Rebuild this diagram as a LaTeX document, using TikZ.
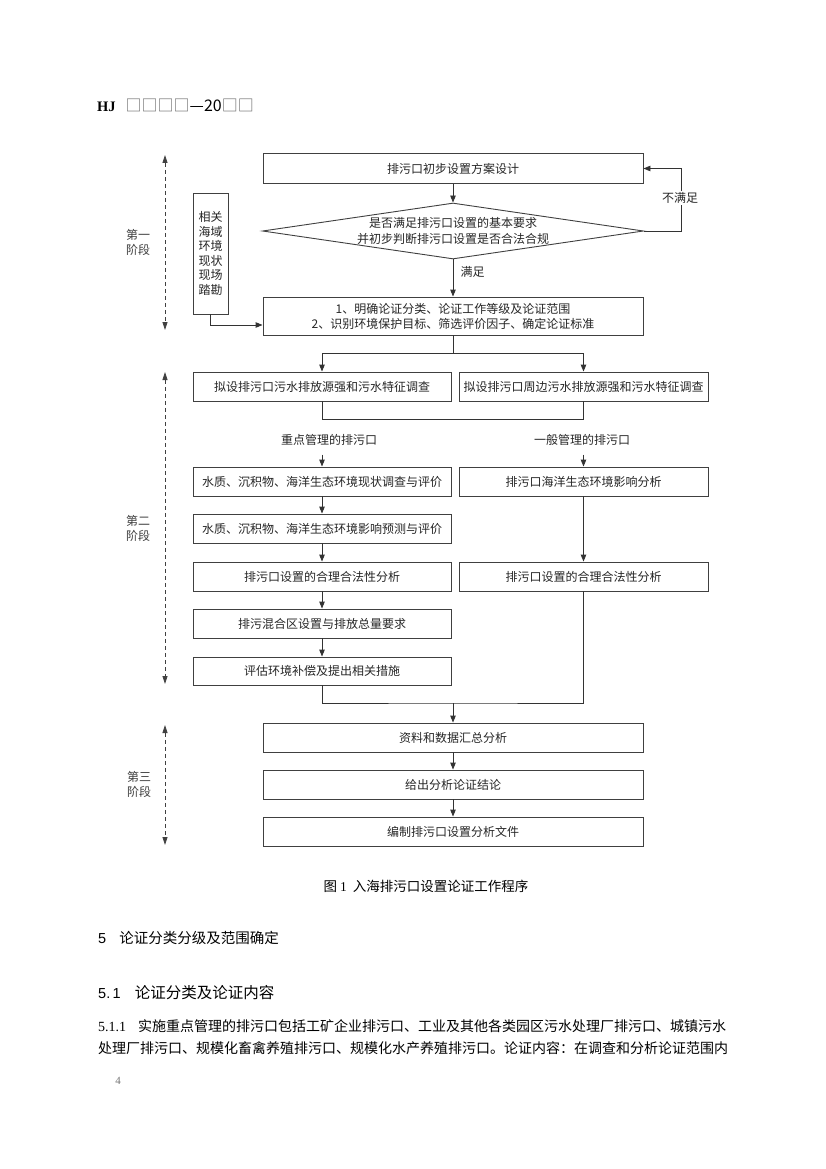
\documentclass[tikz,border=0pt]{standalone}
\usepackage{fontspec}
\setmainfont{Liberation Serif}
\setsansfont{Liberation Sans}
\newfontfamily\cjk{Noto Sans CJK SC}
\usetikzlibrary{arrows.meta,shapes.geometric,calc}
\XeTeXlinebreaklocale "zh"
\XeTeXlinebreakskip=0pt plus 2pt
\begin{document}
\begin{tikzpicture}[x=1pt,y=-1pt,
 line/.style={draw=black!80, line width=0.9pt},
 box/.style={draw=black!75, line width=0.9pt, rectangle, inner sep=0pt, minimum height=29pt,
   font=\cjk\fontsize{12}{15}\selectfont, text=black!85, align=center},
 arr/.style={line, -{Triangle[length=7pt,width=5.5pt]}},
 phase/.style={draw=black!75, line width=0.8pt, dash pattern=on 4pt off 3pt,
   {Triangle[length=8pt,width=5pt]}-{Triangle[length=8pt,width=5pt]}},
 plabel/.style={font=\cjk\fontsize{12}{15}\selectfont, text=black!75, align=center, inner sep=0pt},
 lbl/.style={font=\cjk\fontsize{12}{14}\selectfont, text=black!85, inner sep=1.5pt},
]
\fill[white] (0,0) rectangle (826,1169);
\useasboundingbox (0,0) rectangle (826,1169);

% header
\node[anchor=west, inner sep=0pt] (hdr) at (97,105)
  {{\fontsize{14.5}{16}\selectfont\bfseries HJ}\hspace{10pt}{\cjk\fontsize{16}{17}\selectfont\textcolor{black!60}{□□□□}—20\textcolor{black!60}{□□}}};

% phase 1
\node[box, minimum width=380pt, minimum height=30pt] (s1) at (453,168.5) {排污口初步设置方案设计};
\node[draw=black!75, line width=0.9pt, diamond, shape aspect=6.8, minimum width=381pt, minimum height=56pt,
  inner sep=-8pt, font=\cjk\fontsize{12}{16}\selectfont, text=black!85, align=center] (d) at (453,231)
  {是否满足排污口设置的基本要求\\并初步判断排污口设置是否合法合规};
\node[box, minimum width=380pt, minimum height=38pt] (s2) at (453,316)
  {1、明确论证分类、论证工作等级及论证范围\\2、识别环境保护目标、筛选评价因子、确定论证标准};
\node[box, minimum width=35pt, minimum height=121pt, font=\cjk\fontsize{12}{14.6}\selectfont] (site) at (210.5,253.5)
  {相关\\海域\\环境\\现状\\现场\\踏勘};

\draw[arr] (s1.south) -- (d.north);
\draw[arr] (d.south) -- (s2.north);
\draw[arr] (d.east) -- ++(37,0) |- (s1.east);
\node[lbl, fill=white] (no) at (680,198) {不满足};
\node[lbl, anchor=west] (yes) at (459,272) {满足};
\draw[arr] (site.south) |- ([yshift=-9pt]s2.west);

\coordinate (p1a) at (165,155);
\coordinate (p1b) at (165,330);
\draw[phase] (p1a) -- (p1b);
\node[plabel] (pl1) at (138,242) {第一\\阶段};

% phase 2
\node[box, minimum width=258pt] (L1) at (322,386.5) {拟设排污口污水排放源强和污水特征调查};
\node[box, minimum width=249pt] (R1) at (583.5,386.5) {拟设排污口周边污水排放源强和污水特征调查};
\coordinate (br) at (453,353);
\draw[line] (s2.south) -- (br);
\draw[arr] (br) -| (L1.north);
\draw[arr] (br) -| (R1.north);
\draw[line] (L1.south) -- ++(0,18) -| (R1.south);

\node[lbl] (lk) at (329,440) {重点管理的排污口};
\node[lbl] (lg) at (582,440) {一般管理的排污口};

\node[box, minimum width=258pt] (L2) at (322,481.5) {水质、沉积物、海洋生态环境现状调查与评价};
\node[box, minimum width=258pt] (L3) at (322,528.5) {水质、沉积物、海洋生态环境影响预测与评价};
\node[box, minimum width=258pt] (L4) at (322,576.5) {排污口设置的合理合法性分析};
\node[box, minimum width=258pt] (L5) at (322,623.5) {排污混合区设置与排放总量要求};
\node[box, minimum width=258pt, minimum height=28pt] (L6) at (322,671) {评估环境补偿及提出相关措施};
\node[box, minimum width=249pt] (R2) at (583.5,481.5) {排污口海洋生态环境影响分析};
\node[box, minimum width=249pt] (R3) at (583.5,576.5) {排污口设置的合理合法性分析};

\draw[arr] ([yshift=12pt]L2.north) -- (L2.north);
\draw[arr] ([yshift=12pt]R2.north) -- (R2.north);
\draw[arr] (L2) -- (L3);
\draw[arr] (L3) -- (L4);
\draw[arr] (L4) -- (L5);
\draw[arr] (L5) -- (L6);
\draw[arr] (R2) -- (R3);

\coordinate (mg) at (453,703);
\draw[line] (L6.south) |- (mg) -| (R3.south);

\coordinate (p2a) at (165,372);
\coordinate (p2b) at (165,684);
\draw[phase] (p2a) -- (p2b);
\node[plabel] (pl2) at (138,528) {第二\\阶段};

% phase 3
\node[box, minimum width=380pt] (B1) at (453,737.5) {资料和数据汇总分析};
\node[box, minimum width=380pt] (B2) at (453,784.5) {给出分析论证结论};
\node[box, minimum width=380pt] (B3) at (453,831.5) {编制排污口设置分析文件};
\draw[arr] (mg) -- (B1.north);
\draw[arr] (B1) -- (B2);
\draw[arr] (B2) -- (B3);

\coordinate (p3a) at (165,725);
\coordinate (p3b) at (165,845);
\draw[phase] (p3a) -- (p3b);
\node[plabel] (pl3) at (139,784) {第三\\阶段};

% caption and text
\node[inner sep=0pt, font=\cjk\fontsize{13.5}{15}\selectfont] (cap) at (426,886)
  {图 {\rmfamily 1}\hspace{6pt}入海排污口设置论证工作程序};

\node[anchor=west, inner sep=0pt] (h1) at (98,938)
  {{\sffamily\fontsize{14.5}{16}\selectfont 5}\hspace{13pt}{\cjk\fontsize{14.5}{16}\selectfont 论证分类分级及范围确定}};
\node[anchor=west, inner sep=0pt] (h2) at (98,993)
  {{\sffamily\fontsize{14.5}{16}\selectfont 5.\,1}\hspace{14pt}{\cjk\fontsize{15.5}{16}\selectfont 论证分类及论证内容}};

\node[anchor=west, inner sep=0pt, font=\cjk\fontsize{14}{16}\selectfont] (t1) at (98,1026)
  {\makebox[640pt][s]{{\rmfamily 5.1.1}\hspace{12pt}实施重点管理的排污口包括工矿企业排污口、工业及其他各类园区污水处理厂排污口、城镇污水}};
\node[anchor=west, inner sep=0pt, font=\cjk\fontsize{14}{16}\selectfont] (t2) at (98,1048)
  {\makebox[640pt][s]{处理厂排污口、规模化畜禽养殖排污口、规模化水产养殖排污口。论证内容：在调查和分析论证范围内}};

\node[inner sep=0pt, font=\rmfamily\fontsize{11}{12}\selectfont, text=black!55] (pg) at (118,1081) {4};
\end{tikzpicture}
\end{document}
